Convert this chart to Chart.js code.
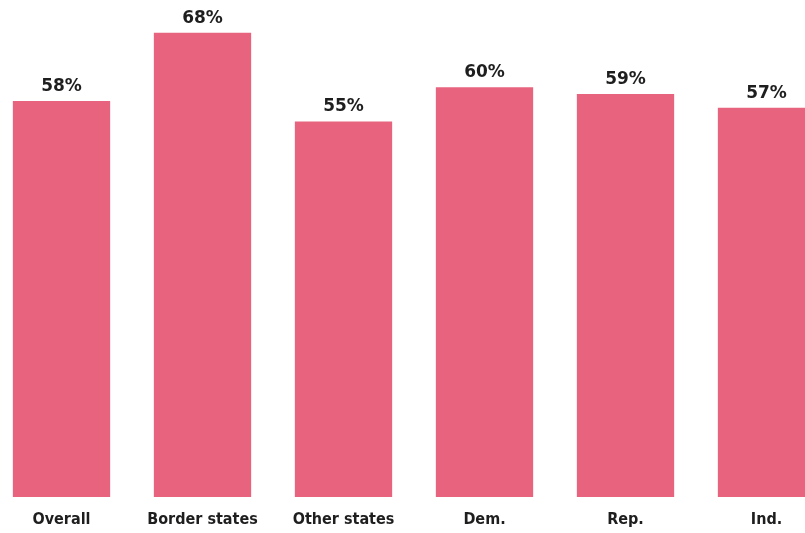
<!DOCTYPE html>
<html>
<head>
<meta charset="utf-8">
<script src="https://cdn.jsdelivr.net/npm/chart.js@4"></script>
<style>
  html, body { margin: 0; padding: 0; background: #fff; overflow: hidden; width: 805px; height: 533px; }
  #wrap { position: absolute; left: -9px; top: 0; width: 846px; height: 533px; }
</style>
</head>
<body>
<div id="wrap"><canvas id="c" width="846" height="533"></canvas></div>
<script>
const categories = ["Overall", "Border states", "Other states", "Dem.", "Rep.", "Ind."];
const shares = [58, 68, 55, 60, 59, 57];

// Percentage labels written above each bar
const valueLabels = {
  id: "valueLabels",
  afterDatasetsDraw(chart) {
    const ctx = chart.ctx;
    const meta = chart.getDatasetMeta(0);
    ctx.save();
    ctx.font = "bold 17px 'DejaVu Sans', sans-serif";
    ctx.fillStyle = "#1e1e1e";
    ctx.textAlign = "center";
    ctx.textBaseline = "alphabetic";
    meta.data.forEach((bar, i) => {
      ctx.fillText(shares[i] + "%", bar.x, bar.y - 10);
    });
    ctx.restore();
  }
};

new Chart(document.getElementById("c"), {
  type: "bar",
  data: {
    labels: categories,
    datasets: [{
      data: shares,
      backgroundColor: "#e7637e",
      borderWidth: 0,
      barPercentage: 0.69,
      categoryPercentage: 1
    }]
  },
  options: {
    responsive: false,
    animation: false,
    layout: { padding: { top: 19, bottom: 0, left: 0, right: 0 } },
    plugins: { legend: { display: false }, tooltip: { enabled: false } },
    scales: {
      x: {
        grid: { display: false, drawTicks: false },
        border: { display: false },
        afterFit(scale) { scale.height = 36; },
        ticks: {
          color: "#1e1e1e",
          padding: 13,
          maxRotation: 0,
          font: { family: "'DejaVu Sans Condensed', 'DejaVu Sans', sans-serif", size: 16, weight: "bold" }
        }
      },
      y: {
        display: false,
        min: 0,
        max: 70
      }
    }
  },
  plugins: [valueLabels]
});
</script>
</body>
</html>
